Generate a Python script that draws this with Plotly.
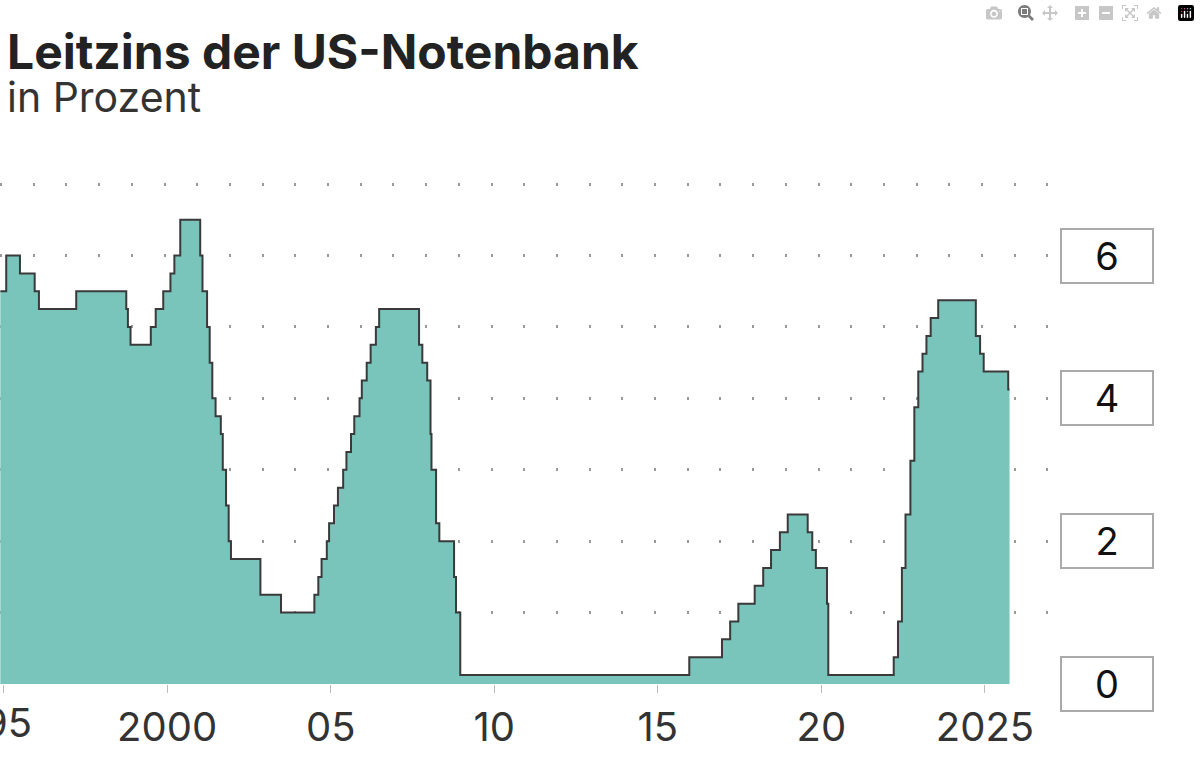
import plotly.graph_objects as go

dates = [1994.9, 1995.08, 1995.5, 1995.95, 1996.08, 1997.22, 1998.75, 1998.8, 1998.88, 1999.5, 1999.65, 1999.88,
         2000.1, 2000.22, 2000.4, 2001.01, 2001.08, 2001.22, 2001.3, 2001.38, 2001.48, 2001.64, 2001.7, 2001.8,
         2001.88, 2001.95, 2002.85, 2003.48, 2004.5, 2004.62, 2004.72, 2004.88, 2004.95, 2005.1, 2005.22, 2005.38,
         2005.48, 2005.62, 2005.72, 2005.88, 2005.95, 2006.1, 2006.22, 2006.38, 2006.48, 2007.7, 2007.8, 2007.95,
         2008.05, 2008.08, 2008.22, 2008.32, 2008.77, 2008.83, 2008.96, 2015.96, 2016.96, 2017.21, 2017.46,
         2017.96, 2018.22, 2018.46, 2018.73, 2018.97, 2019.58, 2019.72, 2019.83, 2020.17, 2020.21, 2022.21,
         2022.34, 2022.46, 2022.57, 2022.72, 2022.84, 2022.96, 2023.09, 2023.21, 2023.34, 2023.57, 2024.72,
         2024.85, 2024.96, 2025.71, 2025.75]
rates = [5.5, 6.0, 5.75, 5.5, 5.25, 5.5, 5.25, 5.0, 4.75, 5.0, 5.25, 5.5,
         5.75, 6.0, 6.5, 6.0, 5.5, 5.0, 4.5, 4.0, 3.75, 3.5, 3.0, 2.5,
         2.0, 1.75, 1.25, 1.0, 1.25, 1.5, 1.75, 2.0, 2.25, 2.5, 2.75, 3.0,
         3.25, 3.5, 3.75, 4.0, 4.25, 4.5, 4.75, 5.0, 5.25, 4.75, 4.5, 4.25,
         3.5, 3.0, 2.25, 2.0, 1.5, 1.0, 0.125, 0.375, 0.625, 0.875, 1.125,
         1.375, 1.625, 1.875, 2.125, 2.375, 2.125, 1.875, 1.625, 1.125, 0.125, 0.375,
         0.875, 1.625, 2.375, 3.125, 3.875, 4.375, 4.625, 4.875, 5.125, 5.375, 4.875,
         4.625, 4.375, 4.125, 4.125]

xtick_vals = [1995, 2000, 2005, 2010, 2015, 2020, 2025]
xtick_text = ["", "2000", "05", "10", "15", "20", "2025"]
first_label = "95"
ylabel_vals = [0, 2, 4, 6]
grid_vals = [1, 2, 3, 4, 5, 6, 7]

fig = go.Figure(go.Scatter(x=dates, y=rates, mode="lines", line=dict(shape="hv", color="#3a3a3a", width=2),
                           fill="tozeroy", fillcolor="#7ac5bb", hoverinfo="skip"))

font = "Inter, Roboto, sans-serif"
fig.update_layout(
    width=1200, height=765, plot_bgcolor="white", paper_bgcolor="white", showlegend=False,
    margin=dict(l=0, r=145, t=182, b=81),
    font=dict(family=font, color="#222"),
    xaxis=dict(range=[1994.89, 2027.14], tickvals=xtick_vals, ticktext=xtick_text, showgrid=False,
               zeroline=False, showline=False, ticks="outside", ticklen=8, tickcolor="#bbb",
               tickfont=dict(size=40, color="#333")),
    yaxis=dict(range=[0, 7.03], tickvals=grid_vals, showticklabels=False, showgrid=True, gridcolor="#999",
               gridwidth=3, griddash="2px,30.7px", zeroline=False, showline=False),
)

fig.add_annotation(x=1995, y=0, xref="x", yref="paper", yanchor="top", text=first_label, showarrow=False,
                   xshift=4, yshift=-12, font=dict(size=40, color="#333"))

for v in ylabel_vals:
    fig.add_annotation(x=1.049, y=v, xref="paper", yref="y", text=str(v), showarrow=False, xanchor="center",
                       font=dict(size=38, color="#111"), bordercolor="#aaa", borderwidth=2, borderpad=2,
                       width=86, height=48, bgcolor="white")

fig.add_annotation(x=0.005, y=1.0, xref="paper", yref="paper", yanchor="top", xanchor="left",
                   text="<b>Leitzins der US-Notenbank</b>", showarrow=False, yshift=162,
                   font=dict(size=48, color="#222"))
fig.add_annotation(x=0.005, y=1.0, xref="paper", yref="paper", yanchor="top", xanchor="left",
                   text="in Prozent", showarrow=False, yshift=112, font=dict(size=41, color="#333"))

fig.write_html("out.html", post_script="document.body.style.margin='0';")
